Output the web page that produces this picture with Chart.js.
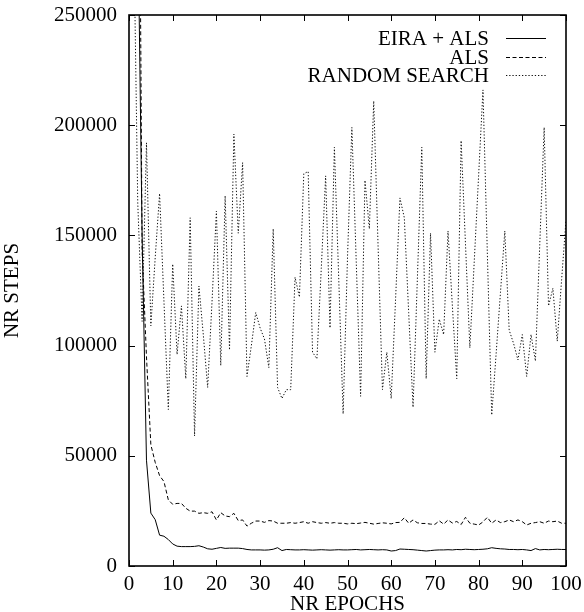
<!DOCTYPE html>
<html>
<head>
<meta charset="utf-8">
<script src="https://cdn.jsdelivr.net/npm/chart.js@4"></script>
<style>
  html, body { margin: 0; padding: 0; background: #fff; }
  #wrap { width: 584px; height: 612px; position: relative; }
</style>
</head>
<body>
<div id="wrap"><canvas id="c" width="584" height="612"></canvas></div>
<script>
const epochs = Array.from({length: 100}, (_, i) => i + 1);

const eiraAls = [
  600000, 300000, 150000, 48000, 24000, 21000, 14000, 13500, 12000, 10000,
  9000, 8800, 8800, 8800, 8900, 9200, 8600, 7800, 7600, 8000,
  8400, 8000, 8100, 8100, 8100, 7900, 7500, 7300, 7300, 7300,
  7200, 7300, 7600, 8300, 7000, 7500, 7400, 7300, 7300, 7400,
  7300, 7200, 7300, 7400, 7300, 7200, 7300, 7400, 7300, 7300,
  7400, 7500, 7300, 7400, 7500, 7400, 7300, 7400, 7300, 6800,
  7000, 7700, 7600, 7500, 7400, 7200, 7000, 6800, 7000, 7200,
  7300, 7300, 7400, 7300, 7500, 7400, 7600, 7500, 7400, 7500,
  7600, 7800, 8300, 8000, 7800, 7700, 7500, 7500, 7400, 7500,
  7300, 7000, 7900, 7300, 7500, 7400, 7500, 7600, 7500, 7500
];

const als = [
  800000, 450000, 143000, 95000, 55000, 47000, 41000, 38300, 30000, 28000,
  28400, 28400, 26200, 24900, 24900, 23900, 24200, 23900, 24600, 20900,
  24200, 22700, 22400, 23900, 20600, 20900, 18100, 19400, 20400, 20400,
  19800, 20600, 20400, 19400, 19400, 19400, 19700, 19400, 19700, 20100,
  19400, 20100, 19700, 19400, 19700, 19400, 19700, 19400, 19400, 19100,
  19400, 19200, 19500, 19800, 19400, 19000, 19300, 19600, 19400, 19100,
  19700, 19800, 21900, 19400, 20900, 19600, 19300, 19300, 19000, 18900,
  20500, 19000, 20900, 19500, 20200, 18800, 22100, 19400, 19000, 18600,
  20000, 22100, 19400, 20900, 19700, 20100, 20900, 20100, 20900, 20100,
  18600, 19400, 19700, 20100, 19400, 20400, 20100, 20400, 19400, 19400
];

const randomSearch = [
  300000, 165000, 111000, 192000, 109000, 140000, 169000, 120000, 71000, 137000,
  96000, 118000, 85000, 158000, 59000, 127000, 105000, 81000, 120000, 161000,
  91000, 168000, 98000, 196000, 151000, 183000, 86000, 100000, 115000, 108000,
  103000, 90000, 153000, 81000, 76000, 80000, 80000, 131000, 122000, 178000,
  179000, 97000, 94000, 135000, 177000, 108000, 190000, 130000, 69000, 140000,
  199000, 138000, 77000, 175000, 153000, 211000, 145000, 80000, 97000, 76000,
  121000, 167000, 158000, 115000, 72000, 131000, 190000, 85000, 151000, 97000,
  112000, 105000, 152000, 118000, 85000, 193000, 146000, 99000, 138000, 177000,
  216000, 142000, 68500, 96000, 124000, 152000, 107000, 101000, 93500, 105000,
  86000, 105000, 93000, 146000, 199000, 118000, 126000, 102000, 130000, 157000
];

const seriesLabels = ['EIRA + ALS', 'ALS', 'RANDOM SEARCH'];
const xTitle = 'NR EPOCHS';
const yTitle = 'NR STEPS';

const FONT = '"Liberation Serif", "Times New Roman", serif';
const FS = 21;
const toXY = arr => arr.map((v, i) => ({x: epochs[i], y: v}));

const framePlugin = {
  id: 'frame',
  afterDatasetsDraw(chart) {
    const {ctx, chartArea: a, scales: {x, y}} = chart;
    ctx.save();
    ctx.strokeStyle = '#000';
    ctx.lineWidth = 1;
    const seg = (x1, y1, x2, y2) => { ctx.beginPath(); ctx.moveTo(x1, y1); ctx.lineTo(x2, y2); ctx.stroke(); };
    const TL = 6;
    x.ticks.forEach(t => {
      const px = Math.round(x.getPixelForValue(t.value)) + 0.5;
      seg(px, a.bottom, px, a.bottom - TL);
      seg(px, a.top, px, a.top + TL);
    });
    y.ticks.forEach(t => {
      const py = Math.round(y.getPixelForValue(t.value)) + 0.5;
      seg(a.left, py, a.left + TL, py);
      seg(a.right, py, a.right - TL, py);
    });
    ctx.lineWidth = 1.6;
    ctx.strokeRect(a.left, a.top, a.right - a.left, a.bottom - a.top);

    // legend (top right, text right-aligned, sample to the right)
    ctx.font = FS + 'px ' + FONT;
    ctx.fillStyle = '#000';
    ctx.textAlign = 'right';
    ctx.textBaseline = 'middle';
    const rows = [38, 57, 75];
    chart.data.datasets.forEach((ds, i) => {
      const yy = rows[i];
      ctx.fillText(ds.label, 489, yy + 1);
      ctx.save();
      ctx.lineWidth = 1;
      ctx.strokeStyle = ds.borderColor;
      ctx.setLineDash(ds.borderDash || []);
      seg(506, yy + 0.5, 546, yy + 0.5);
      ctx.restore();
    });
    ctx.restore();
  }
};

new Chart(document.getElementById('c'), {
  type: 'line',
  data: {
    datasets: [
      { label: seriesLabels[0], data: toXY(eiraAls), borderColor: '#000', borderWidth: 1, borderDash: [] },
      { label: seriesLabels[1], data: toXY(als), borderColor: '#000', borderWidth: 1, borderDash: [4, 2.5] },
      { label: seriesLabels[2], data: toXY(randomSearch), borderColor: '#111', borderWidth: 1, borderDash: [1.3, 1.9] }
    ]
  },
  options: {
    responsive: false,
    animation: false,
    devicePixelRatio: 1,
    layout: { padding: { left: 0, right: 18, top: 15, bottom: 0 } },
    elements: { point: { radius: 0 }, line: { tension: 0, fill: false } },
    plugins: { legend: { display: false }, tooltip: { enabled: false } },
    scales: {
      x: {
        type: 'linear', min: 0, max: 100,
        grid: { display: false, drawTicks: false },
        border: { display: false },
        ticks: { stepSize: 10, color: '#000', padding: 6, maxRotation: 0, font: { family: FONT, size: FS },
                 callback: v => String(v) },
        title: { display: true, text: xTitle, color: '#000', font: { family: FONT, size: FS, lineHeight: 0.7 }, padding: 0 },
        afterFit(s) { s.height = 46; s.paddingLeft = 0; s.paddingRight = 0; }
      },
      y: {
        type: 'linear', min: 0, max: 250000,
        grid: { display: false, drawTicks: false },
        border: { display: false },
        ticks: { stepSize: 50000, color: '#000', padding: 12, font: { family: FONT, size: FS },
                 callback: v => String(v) },
        title: { display: true, text: yTitle, color: '#000', font: { family: FONT, size: FS, lineHeight: 1 }, padding: { top: 2, bottom: 0 } },
        afterFit(s) { s.width = 129; s.paddingTop = 0; s.paddingBottom = 0; }
      }
    }
  },
  plugins: [framePlugin]
});
</script>
</body>
</html>
